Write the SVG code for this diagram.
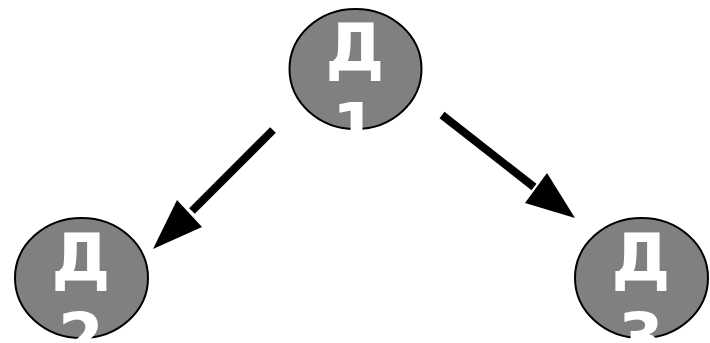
<svg xmlns="http://www.w3.org/2000/svg" width="710" height="343" viewBox="0 0 710 343">
<style>
.node ellipse{fill:#808080;stroke:#000;stroke-width:2}
.node text{fill:#fff;font-family:"DejaVu Sans",Verdana,sans-serif;font-weight:bold;font-size:66px;text-anchor:middle}
.conn line{stroke:#000;stroke-width:8}
.conn polygon{fill:#000}
</style>
<defs>
<clipPath id="c1"><rect x="280" y="0" width="150" height="130"/></clipPath>
<clipPath id="c2"><rect x="0" y="210" width="160" height="130"/></clipPath>
<clipPath id="c3"><rect x="560" y="210" width="150" height="130"/></clipPath>
</defs>
<g id="node1" class="node">
<ellipse cx="355.5" cy="69" rx="66" ry="60"/>
<g clip-path="url(#c1)"><text x="355" y="71">Д</text><text x="355" y="150">1</text></g>
</g>
<g id="node2" class="node">
<ellipse cx="81.5" cy="278" rx="66.5" ry="60"/>
<g clip-path="url(#c2)"><text x="81" y="281">Д</text><text x="81" y="360">2</text></g>
</g>
<g id="node3" class="node">
<ellipse cx="641.5" cy="278" rx="66.5" ry="60"/>
<g clip-path="url(#c3)"><text x="641" y="281">Д</text><text x="641" y="360">3</text></g>
</g>
<g id="connectors" class="conn">
<line x1="273" y1="130" x2="192" y2="211"/>
<polygon points="153,249 177,200 202,227"/>
<line x1="442" y1="115" x2="534" y2="187"/>
<polygon points="575,218 547,173 525,203"/>
</g>
</svg>
